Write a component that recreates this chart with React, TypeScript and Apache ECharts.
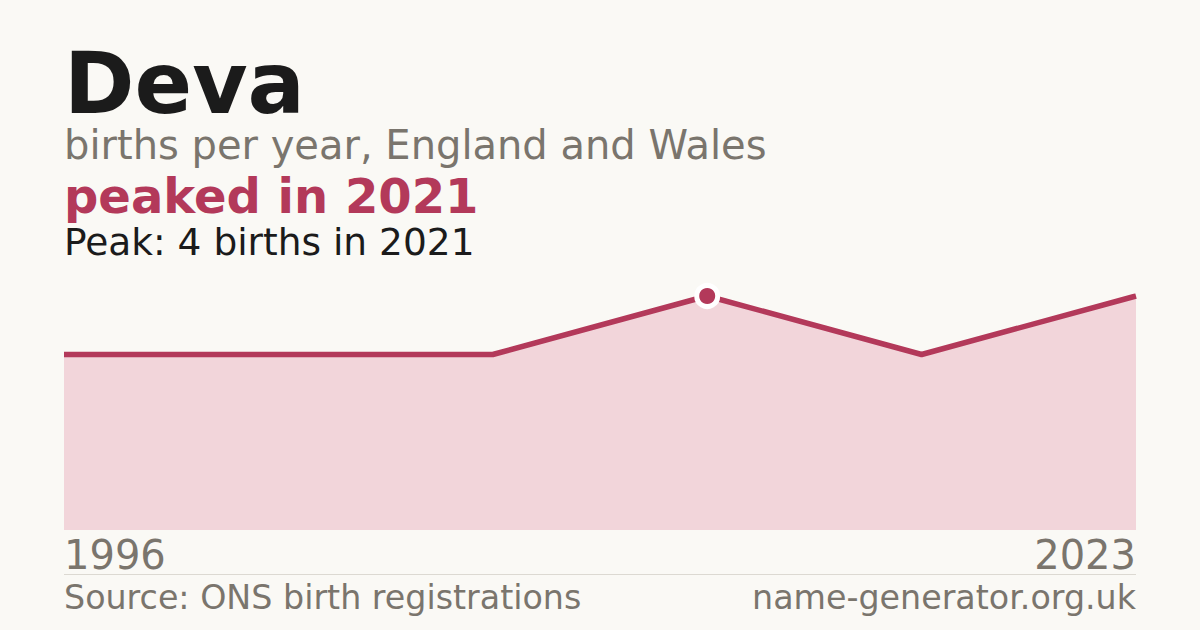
import * as echarts from "echarts"
import { FC, useEffect, useRef } from "react"

// Data
const years = ["1996", "2019", "2020", "2021", "2022", "2023"]
const births = [3, 3, 3, 4, 3, 4]
const peakYear = "2021"
const peakValue = 4

const nameTitle = "Deva"
const subtitle = "births per year, England and Wales"
const headline = "peaked in 2021"
const peakNote = "Peak: 4 births in 2021"
const sourceText = "Source: ONS birth registrations"
const siteText = "name-generator.org.uk"

const BG = "#faf9f5"
const CRIMSON = "#b3395a"
const FILL = "#f2d5da"
const GREY = "#7a756d"
const INK = "#1b1b1b"
const FONT = "'DejaVu Sans', sans-serif"

const App: FC = () => {
  const chartRef = useRef<HTMLDivElement>(null)

  useEffect(() => {
    if (!chartRef.current) return
    const chart = echarts.init(chartRef.current, undefined, { renderer: "svg" })

    const peakIndex = years.indexOf(peakYear)

    const option: echarts.EChartsOption = {
      animation: false,
      backgroundColor: BG,
      textStyle: { fontFamily: FONT },
      grid: { left: 64, right: 64, top: 296, bottom: 100 },
      xAxis: {
        type: "category",
        data: years,
        boundaryGap: false,
        axisLine: { show: false },
        axisTick: { show: false },
        splitLine: { show: false },
        axisLabel: {
          interval: (index: number) => index === 0 || index === years.length - 1,
          color: GREY,
          fontSize: 40,
          lineHeight: 38,
          fontFamily: FONT,
          margin: 6,
          verticalAlign: "top",
          alignMinLabel: "left",
          alignMaxLabel: "right",
        } as any,
      },
      yAxis: {
        type: "value",
        min: 0,
        max: peakValue,
        show: false,
        splitLine: { show: false },
      },
      graphic: [
        {
          type: "text",
          x: 64,
          y: 83,
          style: {
            text: nameTitle,
            font: `bold 85px ${FONT}`,
            lineHeight: 76,
            verticalAlign: "middle",
            fill: INK,
          },
        },
        {
          type: "text",
          left: 64,
          top: 125,
          style: { text: subtitle, font: `40px ${FONT}`, fill: GREY },
        },
        {
          type: "text",
          left: 64,
          top: 172,
          style: { text: headline, font: `bold 48px ${FONT}`, fill: CRIMSON },
        },
        {
          type: "text",
          left: 64,
          top: 223,
          style: { text: peakNote, font: `37.5px ${FONT}`, fill: INK },
        },
        {
          type: "line",
          shape: { x1: 64, y1: 574.5, x2: 1136, y2: 574.5 },
          style: { stroke: "#dcd9d2", lineWidth: 1 },
        },
        {
          type: "text",
          left: 64,
          top: 581,
          style: { text: sourceText, font: `33.3px ${FONT}`, fill: GREY },
        },
        {
          type: "text",
          right: 64,
          top: 581,
          style: { text: siteText, font: `33.3px ${FONT}`, fill: GREY },
        },
      ],
      series: [
        {
          type: "line",
          data: births,
          symbol: "none",
          lineStyle: { color: CRIMSON, width: 5.5, cap: "butt" },
          areaStyle: { color: FILL, opacity: 1 },
          z: 2,
        },
        {
          type: "scatter",
          data: births.map((v, i) => (i === peakIndex ? v : null)) as any,
          symbol: "circle",
          symbolSize: 21,
          itemStyle: { color: CRIMSON, borderColor: "#ffffff", borderWidth: 5, opacity: 1 },
          z: 3,
        },
      ],
    }

    chart.setOption(option)

    return () => {
      chart.dispose()
    }
  }, [])

  return (
    <div style={{ position: "fixed", left: 0, top: 0, width: 1200, height: 630, background: BG }}>
      <div ref={chartRef} style={{ width: 1200, height: 630 }} />
    </div>
  )
}

export default App
